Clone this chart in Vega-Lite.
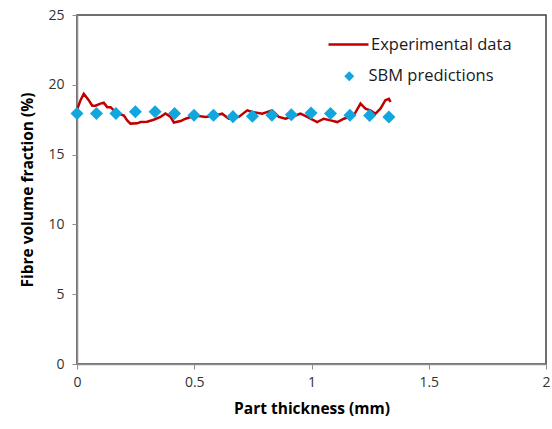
{
  "$schema": "https://vega.github.io/schema/vega-lite/v6.json",
  "autosize": "none",
  "width": 469,
  "height": 349,
  "padding": {"left": 77, "top": 15, "right": 6, "bottom": 65},
  "background": "white",
  "config": {
    "view": {"stroke": "#404040", "strokeWidth": 1.5},
    "font": "Open Sans",
    "axis": {
      "grid": false,
      "domainColor": "#8c8c8c",
      "domainWidth": 1.5,
      "tickColor": "#8c8c8c",
      "tickSize": 5,
      "labelColor": "#333333",
      "labelFontSize": 14,
      "labelFont": "Open Sans",
      "labelFlush": false,
      "titleFont": "Open Sans",
      "titleFontSize": 15.5,
      "titleFontWeight": "bold",
      "titleColor": "#000000"
    },
    "legend": {"labelFont": "Open Sans", "labelFontSize": 16.5, "labelColor": "#1a1a1a"}
  },
  "datasets": {
    "exp": [
      {"t": 0.0, "v": 18.2},
      {"t": 0.015, "v": 18.9},
      {"t": 0.029, "v": 19.36},
      {"t": 0.05, "v": 18.9},
      {"t": 0.065, "v": 18.5},
      {"t": 0.079, "v": 18.5},
      {"t": 0.1, "v": 18.65},
      {"t": 0.114, "v": 18.72},
      {"t": 0.129, "v": 18.4},
      {"t": 0.143, "v": 18.4},
      {"t": 0.157, "v": 18.17},
      {"t": 0.178, "v": 17.93},
      {"t": 0.2, "v": 17.8},
      {"t": 0.214, "v": 17.45},
      {"t": 0.228, "v": 17.22},
      {"t": 0.257, "v": 17.24},
      {"t": 0.271, "v": 17.33},
      {"t": 0.299, "v": 17.35},
      {"t": 0.327, "v": 17.5},
      {"t": 0.356, "v": 17.7},
      {"t": 0.377, "v": 17.95},
      {"t": 0.399, "v": 17.7},
      {"t": 0.413, "v": 17.3},
      {"t": 0.442, "v": 17.4},
      {"t": 0.463, "v": 17.57},
      {"t": 0.505, "v": 17.8},
      {"t": 0.548, "v": 17.7},
      {"t": 0.591, "v": 17.8},
      {"t": 0.619, "v": 17.93},
      {"t": 0.647, "v": 17.57},
      {"t": 0.69, "v": 17.7},
      {"t": 0.726, "v": 18.17},
      {"t": 0.747, "v": 18.05},
      {"t": 0.79, "v": 17.93},
      {"t": 0.832, "v": 18.17},
      {"t": 0.861, "v": 17.7},
      {"t": 0.889, "v": 17.57},
      {"t": 0.932, "v": 17.8},
      {"t": 0.953, "v": 17.93},
      {"t": 0.982, "v": 17.7},
      {"t": 1.024, "v": 17.33},
      {"t": 1.052, "v": 17.57},
      {"t": 1.081, "v": 17.45},
      {"t": 1.11, "v": 17.33},
      {"t": 1.138, "v": 17.57},
      {"t": 1.18, "v": 17.8},
      {"t": 1.209, "v": 18.65},
      {"t": 1.23, "v": 18.29},
      {"t": 1.251, "v": 18.17},
      {"t": 1.273, "v": 17.93},
      {"t": 1.294, "v": 18.29},
      {"t": 1.315, "v": 18.9},
      {"t": 1.33, "v": 19.0},
      {"t": 1.337, "v": 18.77}
    ],
    "sbm": [
      {"t": 0.0, "v": 17.95},
      {"t": 0.083, "v": 17.95},
      {"t": 0.166, "v": 17.95},
      {"t": 0.249, "v": 18.07},
      {"t": 0.333, "v": 18.07},
      {"t": 0.416, "v": 17.95},
      {"t": 0.499, "v": 17.82},
      {"t": 0.582, "v": 17.82},
      {"t": 0.665, "v": 17.72},
      {"t": 0.748, "v": 17.75},
      {"t": 0.831, "v": 17.82},
      {"t": 0.914, "v": 17.85},
      {"t": 0.998, "v": 17.98},
      {"t": 1.081, "v": 17.95},
      {"t": 1.164, "v": 17.82},
      {"t": 1.248, "v": 17.8},
      {"t": 1.33, "v": 17.69}
    ]
  },
  "layer": [
    {
      "data": {"name": "exp"},
      "transform": [{"calculate": "'Experimental data'", "as": "series"}],
      "mark": {"type": "line", "strokeWidth": 2.5, "interpolate": "linear"},
      "encoding": {
        "x": {
          "field": "t", "type": "quantitative",
          "scale": {"domain": [0, 2], "nice": false, "zero": false},
          "axis": {"values": [0, 0.5, 1, 1.5, 2], "format": "~g", "title": "Part thickness (mm)", "labelPadding": 6, "titlePadding": 12}
        },
        "y": {
          "field": "v", "type": "quantitative",
          "scale": {"domain": [0, 25], "nice": false},
          "axis": {"values": [0, 5, 10, 15, 20, 25], "title": "Fibre volume fraction (%)", "labelPadding": 8, "titlePadding": 12}
        },
        "stroke": {
          "field": "series", "type": "nominal",
          "scale": {"domain": ["Experimental data"], "range": ["#C00000"]},
          "legend": {"title": null, "orient": "none", "legendX": 250, "legendY": 8, "symbolType": "stroke", "symbolSize": 1600, "symbolStrokeWidth": 2.5, "labelOffset": 1, "padding": 0}
        }
      }
    },
    {
      "data": {"name": "sbm"},
      "transform": [{"calculate": "'SBM predictions'", "as": "series"}],
      "mark": {"type": "point", "shape": "diamond", "filled": true, "size": 170, "opacity": 1},
      "encoding": {
        "x": {"field": "t", "type": "quantitative"},
        "y": {"field": "v", "type": "quantitative"},
        "fill": {
          "field": "series", "type": "nominal",
          "scale": {"domain": ["SBM predictions"], "range": ["#12A6DE"]},
          "legend": {"title": null, "orient": "none", "legendX": 264, "legendY": 53, "symbolType": "diamond", "symbolSize": 100, "symbolStrokeWidth": 0, "labelOffset": 11, "padding": 0}
        }
      }
    }
  ]
}
